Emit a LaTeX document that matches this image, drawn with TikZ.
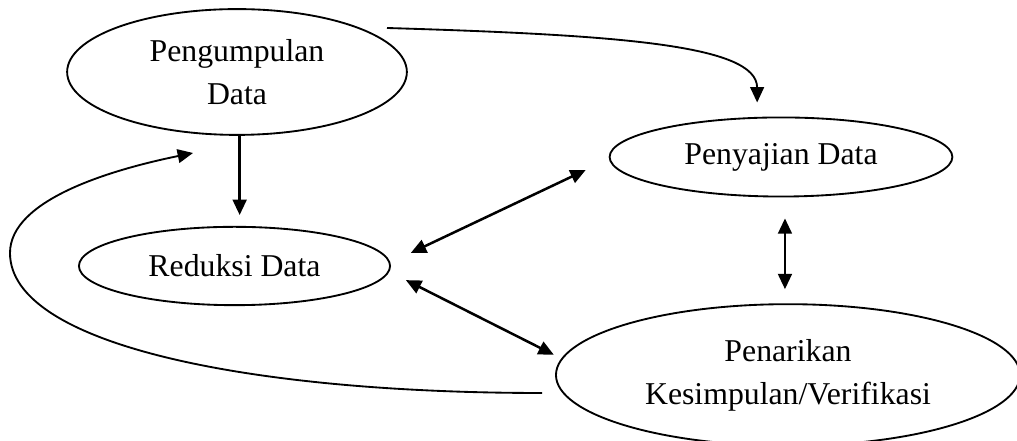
\documentclass[tikz,border=0pt]{standalone}
\usepackage{fontspec}
\setmainfont{Liberation Serif}
\usetikzlibrary{arrows.meta,shapes.geometric}

\begin{document}
\begin{tikzpicture}[x=0.01327cm, y=-0.01327cm,
    font=\fontsize{12}{16.2}\selectfont,
    stage/.style={draw, ellipse, line width=0.7pt, fill=white, inner sep=0pt, align=center},
    arr/.style={line width=0.95pt, -{Triangle[length=5.8pt, width=5.2pt]}},
    dbl/.style={line width=0.95pt, {Triangle[length=5.8pt, width=5.2pt]}-{Triangle[length=5.8pt, width=5.2pt]}},
    loop/.style={line width=0.7pt, -{Triangle[length=5.8pt, width=5.2pt]}}]
  \useasboundingbox (0,0) rectangle (1017,441);
  \clip (0,0) rectangle (1017,441);
  % the four stages
  \node[stage, minimum width=4.51cm, minimum height=1.67cm] (pgd) at (237,72) {Pengumpulan\\Data};
  \node[stage, minimum width=4.13cm, minimum height=1.04cm] (red) at (234.5,266) {Reduksi Data};
  \node[stage, minimum width=4.55cm, minimum height=1.05cm] (pys) at (781,157) {Penyajian Data};
  \node[stage, minimum width=6.16cm, minimum height=1.88cm] (pnk) at (788,375) {Penarikan\\Kesimpulan/Verifikasi};
  % free ends of the curves
  \coordinate (pgdout) at (387,28);
  \coordinate (loopstart) at (542,393);
  \coordinate (looptip) at (193,153);
  % straight links
  \draw[arr, shorten >=4.1pt] ([xshift=1pt]pgd.south) -- ([xshift=1pt]pgd.south |- red.north);
  \draw[dbl, shorten <=8.3pt, shorten >=9.6pt] ([yshift=1.4pt]red.east) -- ([yshift=-0.8pt]pys.west);
  \draw[dbl, shorten <=6.3pt, shorten >=0.5pt] ([yshift=-2.5pt]red.east) -- ([yshift=7.4pt]pnk.west);
  \draw[dbl, shorten <=7.9pt, shorten >=5.3pt] ([xshift=1.5pt]pys.south) -- ([xshift=1.5pt]pys.south |- pnk.north);
  % curved links
  \draw[loop] (pgdout) .. controls (620,35) and (757,45) .. ([shift={(-9pt,5.3pt)}]pys.north);
  \draw[loop] (loopstart) .. controls (250,393) and (10,345) .. (10,253)
    .. controls (10,200) and (110,170) .. (looptip);
\end{tikzpicture}
\end{document}
